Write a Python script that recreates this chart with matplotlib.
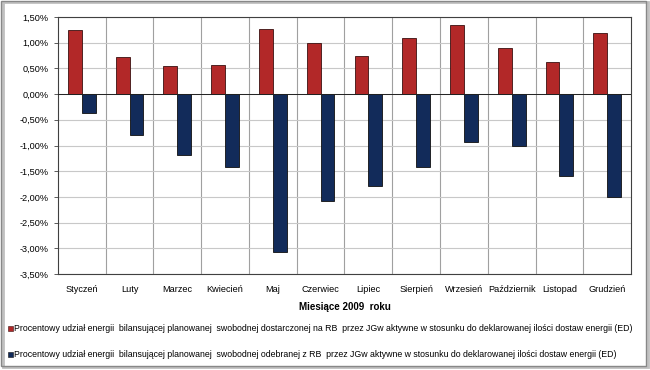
import matplotlib
matplotlib.use('Agg')

import matplotlib.pyplot as plt
import numpy as np
from matplotlib.patches import Rectangle
from matplotlib.ticker import FuncFormatter

months = ['Styczeń', 'Luty', 'Marzec', 'Kwiecień', 'Maj', 'Czerwiec',
          'Lipiec', 'Sierpień', 'Wrzesień', 'Październik', 'Listopad', 'Grudzień']

# percent values
delivered = [1.25, 0.73, 0.54, 0.56, 1.26, 0.99, 0.75, 1.10, 1.35, 0.90, 0.62, 1.19]
received = [-0.36, -0.79, -1.19, -1.41, -3.07, -2.08, -1.78, -1.42, -0.93, -1.00, -1.59, -2.01]

label_delivered = ('Procentowy udział energii  bilansującej planowanej  swobodnej dostarczonej na RB  przez JGw aktywne'
                   ' w stosunku do deklarowanej ilości dostaw energii (ED)')
label_received = ('Procentowy udział energii  bilansującej planowanej  swobodnej odebranej z RB  przez JGw aktywne'
                  ' w stosunku do deklarowanej ilości dostaw energii (ED)')

plt.rcParams['font.family'] = ['Liberation Sans', 'DejaVu Sans']

fig = plt.figure(figsize=(6.5, 3.7), dpi=100)
ax = fig.add_axes([0.089, 0.2595, 0.882, 0.6945])

x = np.arange(len(months))
w = 0.29
ax.bar(x - w / 2, delivered, w, color='#B22828', edgecolor='#3a1010', linewidth=0.6, zorder=3)
ax.bar(x + w / 2, received, w, color='#122B5A', edgecolor='#101010', linewidth=0.6, zorder=3)

ax.set_xlim(-0.5, len(months) - 0.5)
ax.set_ylim(-3.5, 1.5)
ax.set_yticks(np.arange(-3.5, 1.51, 0.5))
ax.yaxis.set_major_formatter(FuncFormatter(lambda v, p: f"{v:.2f}%".replace('.', ',')))
ax.grid(axis='y', color='#c8c8c8', linewidth=0.8, zorder=0)

ax.set_xticks(x)
ax.set_xticklabels(months)
ax.set_xticks(np.arange(0.5, len(months) - 1, 1), minor=True)
ax.grid(axis='x', which='minor', color='#a0a0a0', linewidth=0.8, zorder=0)
ax.tick_params(axis='x', which='both', length=0, labelsize=6.6, pad=8)
ax.tick_params(axis='y', length=3, labelsize=6.6, color='#404040', width=0.6)
ax.axhline(0, color='#202020', linewidth=0.7, zorder=4)

for s in ax.spines.values():
    s.set_color('#404040')
    s.set_linewidth(0.8)

ax.set_xlabel('Miesiące 2009  roku', fontsize=7.0, fontweight='bold', labelpad=6)

# legend drawn as two rows below the axis
fig.patches.append(Rectangle((8 / 650, 1 - 331 / 370), 5 / 650, 5 / 370, transform=fig.transFigure,
                             facecolor='#B22828', edgecolor='#3a1010', linewidth=0.4))
fig.text(14 / 650, 1 - 328.5 / 370, label_delivered, fontsize=6.3, va='center', ha='left')
fig.patches.append(Rectangle((8 / 650, 1 - 357 / 370), 5 / 650, 5 / 370, transform=fig.transFigure,
                             facecolor='#122B5A', edgecolor='#101010', linewidth=0.4))
fig.text(14 / 650, 1 - 354.5 / 370, label_received, fontsize=6.3, va='center', ha='left')

# chart frame with slight shadow
fig.patches.append(Rectangle((3 / 650, 3 / 370), 645 / 650, 365 / 370, transform=fig.transFigure,
                             facecolor='none', edgecolor='#c0c0c0', linewidth=2.0, zorder=0))
fig.patches.append(Rectangle((1 / 650, 4 / 370), 645 / 650, 365 / 370, transform=fig.transFigure,
                             facecolor='none', edgecolor='#888888', linewidth=1.0, zorder=1))

fig.savefig('out.png', dpi=100)
